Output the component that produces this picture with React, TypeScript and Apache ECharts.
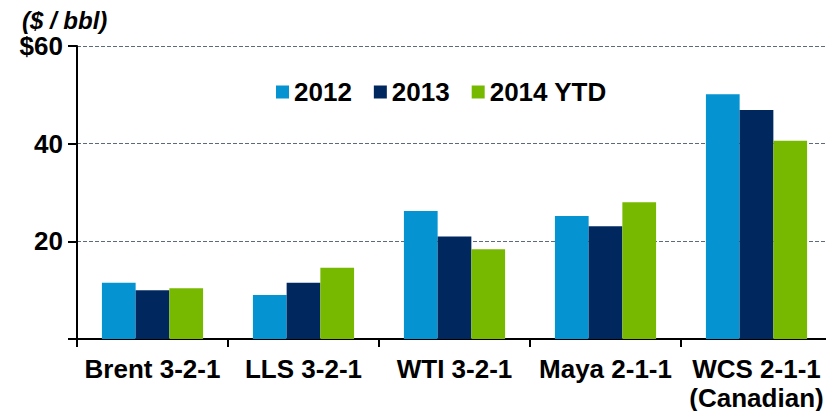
import React, { useEffect, useRef } from "react";
import * as echarts from "echarts";

const categories = ["Brent 3-2-1", "LLS 3-2-1", "WTI 3-2-1", "Maya 2-1-1", "WCS 2-1-1\n(Canadian)"];
const seriesNames = ["2012", "2013", "2014 YTD"];
const values2012 = [11.5, 9.0, 26.2, 25.2, 50.1];
const values2013 = [10.0, 11.5, 21.0, 23.1, 46.9];
const values2014 = [10.4, 14.6, 18.4, 28.0, 40.6];
const colors = ["#0593d1", "#00285f", "#77b900"];

const FONT = "'Liberation Sans', Arial, sans-serif";

export default function App() {
  const ref = useRef<HTMLDivElement>(null);
  useEffect(() => {
    if (!ref.current) return;
    const chart = echarts.init(ref.current, undefined, { renderer: "svg" });
    const data = [values2012, values2013, values2014];
    chart.setOption({
      animation: false,
      title: {
        text: "($ / bbl)",
        left: 22,
        top: 8,
        padding: 0,
        textStyle: { fontFamily: FONT, fontSize: 24, lineHeight: 24, fontWeight: "bold", fontStyle: "italic", color: "#000" },
      },
      legend: {
        data: seriesNames,
        left: 271,
        top: 74,
        itemWidth: 13,
        itemHeight: 13,
        itemGap: 22,
        icon: "rect",
        textStyle: { fontFamily: FONT, fontSize: 26, fontWeight: "bold", color: "#000" },
      },
      grid: { left: 77, right: 2, top: 46, bottom: 80, containLabel: false },
      xAxis: {
        type: "category",
        data: categories,
        axisLine: { lineStyle: { color: "#000", width: 2 } },
        axisTick: { show: true, length: 8, lineStyle: { color: "#000", width: 2 } },
        axisLabel: {
          fontFamily: FONT,
          fontSize: 26,
          fontWeight: "bold",
          color: "#000",
          margin: 15,
          lineHeight: 29,
          interval: 0,
        },
      },
      yAxis: {
        type: "value",
        min: 0,
        max: 60,
        interval: 20,
        axisLine: { show: true, lineStyle: { color: "#000", width: 2 } },
        axisTick: { show: true, length: 9, lineStyle: { color: "#000", width: 2 } },
        axisLabel: {
          fontFamily: FONT,
          fontSize: 26,
          fontWeight: "bold",
          color: "#000",
          margin: 14,
          formatter: (v: number) => (v === 0 ? "" : v === 60 ? "$60" : String(v)),
        },
        splitLine: { show: true, lineStyle: { color: "#5b6b7b", type: [4, 2], width: 1 } },
      },
      series: seriesNames.map((name, i) => ({
        name,
        type: "bar",
        data: data[i],
        barGap: "0%",
        barCategoryGap: "33%",
        itemStyle: { color: colors[i] },
      })),
    });
    return () => chart.dispose();
  }, []);
  return <div ref={ref} style={{ width: 834, height: 419, margin: -8 }} />;
}
